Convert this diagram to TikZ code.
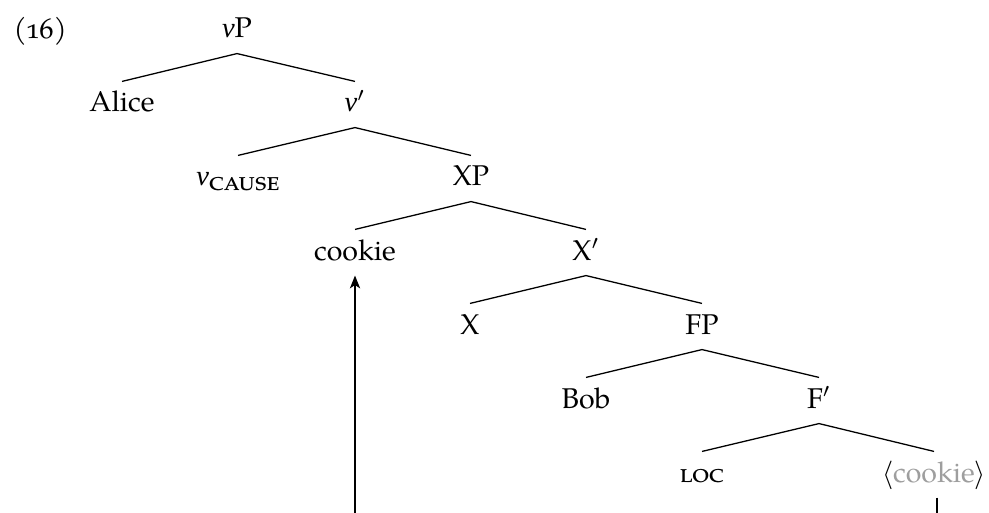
\documentclass[tikz,border=0pt]{standalone}
\usepackage{fontspec}
\setmainfont{TeX Gyre Pagella}[Numbers=OldStyle]
\newfontfamily\greekfont{Liberation Serif}
\usetikzlibrary{arrows.meta}

\newcommand{\nuit}{{\greekfont\itshape ν}}

\tikzset{
  cat/.style={anchor=base, inner xsep=0pt, inner ysep=0pt,
              text height=10.5pt, text depth=5.25pt},
  branch/.style={line width=0.45pt},
  movepath/.style={line width=0.45pt,
                   -{Stealth[length=4.5pt,width=3.6pt,inset=1.2pt]}},
}
\definecolor{tracegray}{gray}{0.62}

\begin{document}
\begin{tikzpicture}[x=0.35pt,y=-0.35pt]
\useasboundingbox (0,0) rectangle (989,513);
\clip (0,0) rectangle (989,513);

% example number
\node[anchor=base west, inner sep=0pt] (exnum) at (13,39) {(16)};

% tree nodes
\node[cat] (vP)     at (237,38)  {\nuit P};
\node[cat] (alice)  at (122,112) {Alice};
\node[cat] (vbar)   at (355,112) {\nuit$'$};
\node[cat] (vcause) at (238,186) {\nuit\raisebox{-0.35ex}{\textsc{cause}}};
\node[cat] (XP)     at (471,186) {XP};
\node[cat] (cookie) at (355,260) {cookie};
\node[cat] (Xbar)   at (586,260) {X$'$};
\node[cat] (X)      at (470,334) {X};
\node[cat] (FP)     at (702,334) {FP};
\node[cat] (bob)    at (586,408) {Bob};
\node[cat] (Fbar)   at (819,408) {F$'$};
\node[cat] (loc)    at (702,482) {\textsc{loc}};
\node[cat] (trace)  at (934,482) {$\langle$\textcolor{tracegray}{cookie}$\rangle$};

% branches
\draw[branch] (vP.south)   -- (alice.north);
\draw[branch] (vP.south)   -- (vbar.north);
\draw[branch] (vbar.south) -- (vcause.north);
\draw[branch] (vbar.south) -- (XP.north);
\draw[branch] (XP.south)   -- (cookie.north);
\draw[branch] (XP.south)   -- (Xbar.north);
\draw[branch] (Xbar.south) -- (X.north);
\draw[branch] (Xbar.south) -- (FP.north);
\draw[branch] (FP.south)   -- (bob.north);
\draw[branch] (FP.south)   -- (Fbar.north);
\draw[branch] (Fbar.south) -- (loc.north);
\draw[branch] (Fbar.south) -- (trace.north);

% movement from the trace up to the landing site
\coordinate (low) at (0,560);
\draw[movepath] ([xshift=1pt]trace.south) -- ([xshift=1pt]trace.south |- low)
  -- (cookie.south |- low) -- (cookie.south);
\end{tikzpicture}
\end{document}
